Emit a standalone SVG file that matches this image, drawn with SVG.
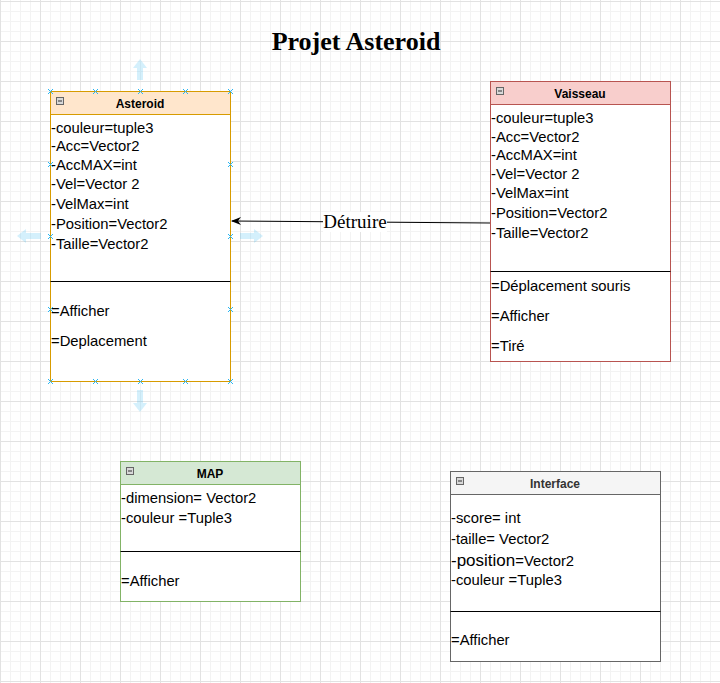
<svg xmlns="http://www.w3.org/2000/svg" width="720" height="683" viewBox="0 0 720 683">
<defs>
<pattern id="grid" x="0" y="1" width="40" height="40" patternUnits="userSpaceOnUse">
<rect width="40" height="40" fill="#ffffff"/>
<g fill="#f3f3f3">
<rect x="10" y="0" width="1" height="40"/><rect x="20" y="0" width="1" height="40"/><rect x="30" y="0" width="1" height="40"/>
<rect x="0" y="10" width="40" height="1"/><rect x="0" y="20" width="40" height="1"/><rect x="0" y="30" width="40" height="1"/>
</g>
<g fill="#e2e2e2">
<rect x="0" y="0" width="1" height="40"/><rect x="0" y="0" width="40" height="1"/>
</g>
</pattern>
<marker id="arr" viewBox="0 0 10 10" refX="9" refY="5" markerWidth="10" markerHeight="10" markerUnits="userSpaceOnUse" orient="auto">
<path d="M0,1 L10,5 L0,9 L3,5 Z" fill="#000"/>
</marker>
<g id="xh"><path d="M-2.5,-2.5 L2.5,2.5 M-2.5,2.5 L2.5,-2.5" stroke="#29b6f2" stroke-width="1"/></g>
</defs>
<style>
.t{font-family:"Liberation Sans",Arial,sans-serif;font-size:14.8px;fill:#000}
.h{font-family:"Liberation Sans",Arial,sans-serif;font-size:12px;font-weight:bold;text-anchor:middle;fill:#000}
.div{stroke:#000;stroke-width:1}
.ic{fill:#d8d8d8;stroke:#666;stroke-width:1}
.icm{stroke:#333;stroke-width:1}
.ha{fill:#29b6f2;opacity:0.2}
</style>
<rect width="720" height="683" fill="url(#grid)"/>

<text x="356" y="49.5" font-family="Liberation Serif,'Times New Roman',serif" font-size="26" font-weight="bold" text-anchor="middle">Projet Asteroid</text>

<g id="connectors">
<line x1="490" y1="223" x2="232" y2="221" stroke="#000" stroke-width="1" marker-end="url(#arr)"/>
<rect x="323" y="212" width="64" height="20" fill="#ffffff"/>
<text x="355" y="228" font-family="Liberation Serif,'Times New Roman',serif" font-size="19" text-anchor="middle">Détruire</text>
</g>

<g id="asteroid">
<rect x="50.5" y="91.5" width="180" height="290" fill="#ffffff" stroke="#d79b00"/>
<rect x="50.5" y="91.5" width="180" height="23" fill="#ffe6cc" stroke="#d79b00"/>
<rect x="56.5" y="97.5" width="7" height="7" class="ic"/><line x1="58" y1="101" x2="62" y2="101" class="icm"/>
<text x="140" y="108" class="h">Asteroid</text>
<text x="51" y="133" class="t">-couleur=tuple3</text>
<text x="51" y="151" class="t">-Acc=Vector2</text>
<text x="51" y="170" class="t">-AccMAX=int</text>
<text x="51" y="189" class="t">-Vel=Vector 2</text>
<text x="51" y="209" class="t">-VelMax=int</text>
<text x="51" y="229" class="t">-Position=Vector2</text>
<text x="51" y="249" class="t">-Taille=Vector2</text>
<line x1="50.5" y1="281.5" x2="230.5" y2="281.5" class="div"/>
<text x="51" y="316" class="t">=Afficher</text>
<text x="51" y="346" class="t">=Deplacement</text>
</g>

<g id="selection">
<polygon class="ha" points="140,59 147,68 143,68 143,80 137,80 137,68 133,68"/>
<polygon class="ha" points="140,412 147,403 143,403 143,390 137,390 137,403 133,403"/>
<polygon class="ha" points="17,236 26,229 26,233 41,233 41,239 26,239 26,243"/>
<polygon class="ha" points="263,236 254,229 254,233 240,233 240,239 254,239 254,243"/>
<use href="#xh" x="50.5" y="91.5"/><use href="#xh" x="95.5" y="91.5"/><use href="#xh" x="140.5" y="91.5"/><use href="#xh" x="185.5" y="91.5"/><use href="#xh" x="230.5" y="91.5"/>
<use href="#xh" x="50.5" y="381.5"/><use href="#xh" x="95.5" y="381.5"/><use href="#xh" x="140.5" y="381.5"/><use href="#xh" x="185.5" y="381.5"/><use href="#xh" x="230.5" y="381.5"/>
<use href="#xh" x="50.5" y="164.5"/><use href="#xh" x="50.5" y="236.5"/><use href="#xh" x="50.5" y="309.5"/>
<use href="#xh" x="230.5" y="164.5"/><use href="#xh" x="230.5" y="236.5"/><use href="#xh" x="230.5" y="309.5"/>
</g>

<g id="vaisseau">
<rect x="490.5" y="81.5" width="180" height="280" fill="#ffffff" stroke="#b85450"/>
<rect x="490.5" y="81.5" width="180" height="23" fill="#f8cecc" stroke="#b85450"/>
<rect x="496.5" y="87.5" width="7" height="7" class="ic"/><line x1="498" y1="91" x2="502" y2="91" class="icm"/>
<text x="580" y="98" class="h">Vaisseau</text>
<text x="491" y="123" class="t">-couleur=tuple3</text>
<text x="491" y="142" class="t">-Acc=Vector2</text>
<text x="491" y="160" class="t">-AccMAX=int</text>
<text x="491" y="179" class="t">-Vel=Vector 2</text>
<text x="491" y="198" class="t">-VelMax=int</text>
<text x="491" y="218" class="t">-Position=Vector2</text>
<text x="491" y="238" class="t">-Taille=Vector2</text>
<line x1="490.5" y1="271.5" x2="670.5" y2="271.5" class="div"/>
<text x="491" y="291" class="t">=Déplacement souris</text>
<text x="491" y="321" class="t">=Afficher</text>
<text x="491" y="351" class="t">=Tiré</text>
</g>

<g id="map">
<rect x="120.5" y="461.5" width="180" height="140" fill="#ffffff" stroke="#82b366"/>
<rect x="120.5" y="461.5" width="180" height="23" fill="#d5e8d4" stroke="#82b366"/>
<rect x="126.5" y="467.5" width="7" height="7" class="ic"/><line x1="128" y1="471" x2="132" y2="471" class="icm"/>
<text x="210" y="478" class="h">MAP</text>
<text x="121" y="503" class="t">-dimension= Vector2</text>
<text x="121" y="523" class="t">-couleur =Tuple3</text>
<line x1="120.5" y1="551.5" x2="300.5" y2="551.5" class="div"/>
<text x="121" y="586" class="t">=Afficher</text>
</g>

<g id="interface">
<rect x="450.5" y="471.5" width="210" height="190" fill="#ffffff" stroke="#666666"/>
<rect x="450.5" y="471.5" width="210" height="23" fill="#f5f5f5" stroke="#666666"/>
<rect x="456.5" y="477.5" width="7" height="7" class="ic"/><line x1="458" y1="481" x2="462" y2="481" class="icm"/>
<text x="555" y="488" class="h" style="fill:#333333">Interface</text>
<text x="451" y="523" class="t">-score= int</text>
<text x="451" y="544" class="t">-taille= Vector2</text>
<text x="451" y="565.5" class="t"><tspan font-size="17">-position</tspan>=Vector2</text>
<text x="451" y="585" class="t">-couleur =Tuple3</text>
<line x1="450.5" y1="611.5" x2="660.5" y2="611.5" class="div"/>
<text x="451" y="645" class="t">=Afficher</text>
</g>
</svg>
